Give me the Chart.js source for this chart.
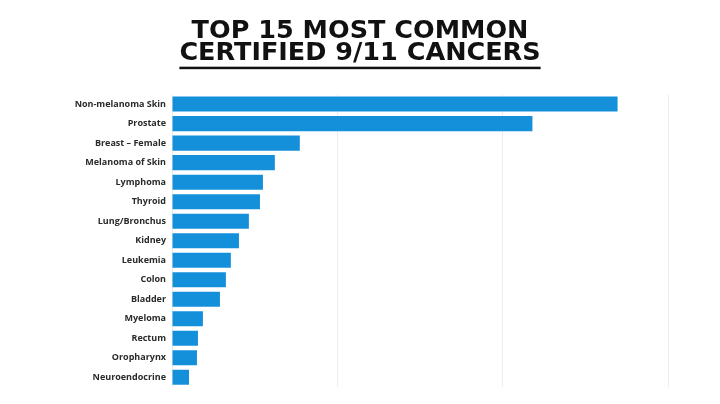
<!DOCTYPE html>
<html>
<head>
<meta charset="utf-8">
<script src="https://cdn.jsdelivr.net/npm/chart.js@4/dist/chart.umd.min.js"></script>
<style>
  html, body { margin: 0; padding: 0; background: #ffffff; }
  #wrap { width: 720px; height: 404px; position: relative; }
</style>
</head>
<body>
<div id="wrap"><canvas id="c" width="720" height="404"></canvas></div>
<script>
const titleLines = ['TOP 15 MOST COMMON', 'CERTIFIED 9/11 CANCERS'];
const categories = [
  'Non-melanoma Skin', 'Prostate', 'Breast \u2013 Female', 'Melanoma of Skin', 'Lymphoma',
  'Thyroid', 'Lung/Bronchus', 'Kidney', 'Leukemia', 'Colon',
  'Bladder', 'Myeloma', 'Rectum', 'Oropharynx', 'Neuroendocrine'
];
const certifiedCases = [2695, 2180, 773, 622, 550, 532, 465, 405, 356, 326, 290, 187, 157, 151, 103];
const axisMax = 3000;
const axisStep = 1000;

const underlinePlugin = {
  id: 'underlineTitle',
  afterDraw(chart) {
    const tb = chart.titleBlock;
    if (!tb) return;
    const ctx = chart.ctx;
    const opts = chart.options.plugins.title;
    const size = opts.font.size;
    const lh = size * opts.font.lineHeight;
    ctx.save();
    ctx.font = `${opts.font.weight} ${size}px ${opts.font.family}`;
    const last = titleLines[titleLines.length - 1];
    const w = ctx.measureText(last).width;
    const cx = (tb.left + tb.right) / 2;
    const midY = tb.top + opts.padding.top + lh * (titleLines.length - 0.5);
    const y = midY + size * 0.36 + 4;
    ctx.fillStyle = '#111111';
    ctx.fillRect(cx - w / 2, y, w, 2.5);
    ctx.restore();
  }
};

new Chart(document.getElementById('c'), {
  type: 'bar',
  data: {
    labels: categories,
    datasets: [{
      data: certifiedCases,
      backgroundColor: '#1490db',
      borderWidth: 0,
      barPercentage: 0.77,
      categoryPercentage: 1.0
    }]
  },
  options: {
    indexAxis: 'y',
    responsive: false,
    animation: false,
    devicePixelRatio: 1,
    layout: { padding: { left: 0, right: 0, top: 0, bottom: 17 } },
    plugins: {
      legend: { display: false },
      tooltip: { enabled: false },
      title: {
        display: true,
        text: titleLines,
        color: '#111111',
        font: { family: '"DejaVu Sans"', weight: 'bold', size: 25.5, lineHeight: 0.85 },
        padding: { top: 21, bottom: 30 }
      }
    },
    scales: {
      x: {
        min: 0,
        max: axisMax,
        ticks: { display: false, stepSize: axisStep },
        grid: { color: '#ededed', lineWidth: 1, drawTicks: false },
        border: { display: false }
      },
      y: {
        afterFit(scale) { scale.width = 172; },
        ticks: {
          color: '#2a2a2a',
          padding: 6,
          font: { family: '"Open Sans"', weight: 'bold', size: 9 }
        },
        grid: { display: false, drawTicks: false },
        border: { display: false }
      },
      yRight: {
        type: 'category',
        position: 'right',
        afterFit(scale) { scale.width = 52; },
        ticks: { display: false },
        grid: { display: false, drawTicks: false },
        border: { display: false }
      }
    }
  },
  plugins: [underlinePlugin]
});
</script>
</body>
</html>
